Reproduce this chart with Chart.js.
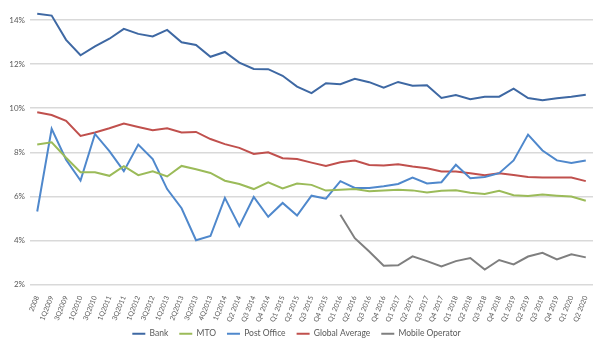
<!DOCTYPE html>
<html>
<head>
<meta charset="utf-8">
<script src="https://cdn.jsdelivr.net/npm/chart.js@4"></script>
<style>
  html, body { margin: 0; padding: 0; background: #fff; }
  #wrap { width: 599px; height: 348px; }
</style>
</head>
<body>
<div id="wrap"><canvas id="chart" width="599" height="348"></canvas></div>
<script>
// quarterly labels along the bottom
const periods = ['2008', '1Q2009', '3Q2009', '1Q2010', '3Q2010', '1Q2011', '3Q2011', '1Q2012', '3Q2012',
  '1Q2013', '2Q2013', '3Q2013', '4Q2013', '1Q2014', 'Q2 2014', 'Q3 2014', 'Q4 2014', 'Q1 2015', 'Q2 2015',
  'Q3 2015', 'Q4 2015', 'Q1 2016', 'Q2 2016', 'Q3 2016', 'Q4 2016', 'Q1 2017', 'Q2 2017', 'Q3 2017', 'Q4 2017',
  'Q1 2018', 'Q2 2018', 'Q3 2018', 'Q4 2018', 'Q1 2019', 'Q2 2019', 'Q3 2019', 'Q4 2019', 'Q1 2020', 'Q2 2020'];

// average cost (%) per channel
const bank = [14.28, 14.2, 13.1, 12.4, 12.8, 13.15, 13.6, 13.37, 13.25, 13.55, 12.99, 12.87, 12.33, 12.55,
  12.07, 11.78, 11.77, 11.47, 10.98, 10.68, 11.13, 11.09, 11.33, 11.18, 10.93, 11.19, 11.02, 11.04, 10.46,
  10.6, 10.41, 10.52, 10.52, 10.89, 10.46, 10.36, 10.45, 10.52, 10.61];
const mto = [8.35, 8.45, 7.75, 7.09, 7.09, 6.93, 7.37, 6.96, 7.14, 6.9, 7.38, 7.23, 7.06, 6.71, 6.56, 6.33,
  6.64, 6.36, 6.58, 6.52, 6.26, 6.3, 6.33, 6.23, 6.26, 6.3, 6.27, 6.17, 6.25, 6.28, 6.16, 6.11, 6.25, 6.05,
  6.02, 6.08, 6.03, 5.99, 5.8];
const postOffice = [5.31, 9.06, 7.66, 6.72, 8.83, 8.05, 7.14, 8.35, 7.69, 6.33, 5.46, 4.01, 4.2, 5.93, 4.65,
  5.97, 5.07, 5.7, 5.13, 6.03, 5.89, 6.69, 6.38, 6.38, 6.46, 6.56, 6.85, 6.58, 6.64, 7.43, 6.82, 6.88, 7.05,
  7.63, 8.8, 8.08, 7.63, 7.51, 7.63];
const globalAverage = [9.81, 9.69, 9.43, 8.74, 8.9, 9.09, 9.3, 9.15, 9.0, 9.09, 8.9, 8.92, 8.6, 8.37, 8.2,
  7.92, 8.0, 7.73, 7.69, 7.53, 7.38, 7.55, 7.62, 7.42, 7.4, 7.46, 7.35, 7.27, 7.13, 7.13, 7.05, 6.96, 7.05,
  6.97, 6.88, 6.86, 6.85, 6.85, 6.69];
// mobile operator series only starts in Q1 2016
const mobileOperator = [null, null, null, null, null, null, null, null, null, null, null, null, null, null,
  null, null, null, null, null, null, null, 5.16, 4.1, 3.5, 2.85, 2.87, 3.28, 3.06, 2.82, 3.06, 3.2, 2.68,
  3.11, 2.91, 3.27, 3.44, 3.14, 3.37, 3.23];

const yTicks = [2, 4, 6, 8, 10, 12, 14];

const FONT = 'Lato, "Open Sans", sans-serif';
const TXT = '#595959';

const line = (label, data, color) => ({
  label,
  data,
  borderColor: color,
  backgroundColor: color,
  borderWidth: 2,
  pointRadius: 0,
  tension: 0,
  clip: false,
  spanGaps: false
});

// x labels are clipped to the axis box; let them run into the legend gap
const unclipLabels = {
  id: 'unclipLabels',
  beforeDraw(chart) {
    const x = chart.scales.x;
    x.bottom = x.top + 48;
  }
};

new Chart(document.getElementById('chart'), {
  type: 'line',
  data: {
    labels: periods,
    datasets: [
      line('Bank', bank, '#3E68A3'),
      line('MTO', mto, '#9BBB59'),
      line('Post Office', postOffice, '#4F88CC'),
      line('Global Average', globalAverage, '#C0504D'),
      line('Mobile Operator', mobileOperator, '#7F7F7F')
    ]
  },
  plugins: [unclipLabels],
  options: {
    responsive: false,
    animation: false,
    layout: { padding: { top: 20, right: 6, bottom: 0, left: 0 } },
    scales: {
      x: {
        offset: true,
        grid: { display: false },
        border: { display: false },
        afterFit: s => { s.height = 34; },
        ticks: {
          color: TXT,
          font: { family: FONT, size: 7 },
          minRotation: 68,
          maxRotation: 68,
          autoSkip: false,
          padding: 2
        }
      },
      y: {
        min: 2,
        max: 14,
        afterBuildTicks: s => { s.ticks = yTicks.map(v => ({ value: v })); },
        afterFit: s => { s.width = 30; },
        border: { display: false },
        grid: { color: '#D9D9D9', lineWidth: 1.5, drawTicks: false },
        ticks: {
          color: TXT,
          font: { family: FONT, size: 8 },
          padding: 5,
          callback: v => v + '%'
        }
      }
    },
    plugins: {
      legend: {
        position: 'bottom',
        labels: {
          color: TXT,
          font: { family: FONT, size: 8.5 },
          usePointStyle: true,
          pointStyle: 'line',
          pointStyleWidth: 13,
          padding: 11
        }
      },
      tooltip: { enabled: false }
    }
  }
});
</script>
</body>
</html>
